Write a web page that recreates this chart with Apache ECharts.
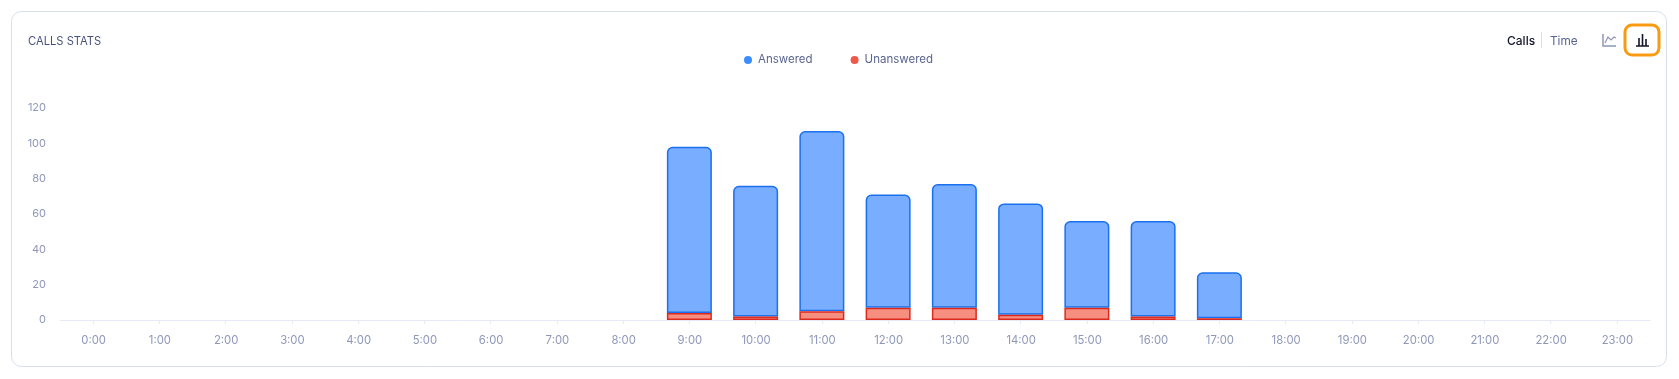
<!DOCTYPE html>
<html>
<head>
<meta charset="utf-8">
<style>html,body{margin:0;padding:0;background:#fff}#c{width:1679px;height:379px}</style>
<script src="https://cdn.jsdelivr.net/npm/echarts@6/dist/echarts.min.js"></script>
</head>
<body>
<div id="c"></div>
<script>
const hours = ['0:00','1:00','2:00','3:00','4:00','5:00','6:00','7:00','8:00','9:00','10:00','11:00','12:00','13:00','14:00','15:00','16:00','17:00','18:00','19:00','20:00','21:00','22:00','23:00'];
const unanswered = [null,null,null,null,null,null,null,null,null,4,2,5,7,7,3,7,2,1,null,null,null,null,null,null];
const answered   = [null,null,null,null,null,null,null,null,null,94,74,102,64,70,63,49,54,26,null,null,null,null,null,null];
const titleText = 'CALLS STATS';
const tabs = ['Calls','Time'];
const FONT = 'Inter, "Noto Sans", sans-serif';
const chart = echarts.init(document.getElementById('c'), null, {renderer:'canvas'});
chart.setOption({
  animation:false,
  backgroundColor:'#fff',
  title:{text:titleText,left:28,top:35,padding:0,textStyle:{fontFamily:FONT,fontSize:11.2,fontWeight:400,color:'#47527d',lineHeight:14}},
  legend:{
    top:54,left:744,padding:0,itemWidth:8,itemHeight:8,itemGap:38,icon:'circle',
    data:[{name:'Answered',itemStyle:{color:'#3a8dff',borderWidth:0}},{name:'Unanswered',itemStyle:{color:'#f0584a',borderWidth:0}}],
    textStyle:{fontFamily:FONT,fontSize:11.5,color:'#5a6490',padding:[0,0,0,1]}
  },
  grid:{left:60,right:29,top:108,bottom:59},
  xAxis:{
    type:'category',data:hours,
    axisLine:{lineStyle:{color:'#e6eaf6',width:1}},
    axisTick:{show:true,alignWithLabel:true,length:4,lineStyle:{color:'#e6eaf6'}},
    axisLabel:{interval:0,margin:15,padding:[0,0,0,1],fontFamily:FONT,fontSize:11.3,color:'#8f97b8'}
  },
  yAxis:{
    type:'value',min:0,max:120,interval:20,
    axisLine:{show:false},axisTick:{show:false},splitLine:{show:false},
    axisLabel:{margin:14,fontFamily:FONT,fontSize:11,color:'#8f97b8'}
  },
  series:[
    {name:'Unanswered',type:'bar',stack:'calls',data:unanswered,barWidth:45,z:3,
     itemStyle:{color:'#f78f81',borderColor:'#dc2a1e',borderWidth:1.5}},
    {name:'Answered',type:'bar',stack:'calls',data:answered,barWidth:45,z:2,
     itemStyle:{color:'#79adff',borderColor:'#1a70ee',borderWidth:1.5,borderRadius:[5,5,0,0]}}
  ],
  graphic:[
    {type:'rect',silent:true,z:-1,shape:{x:11.5,y:11.5,width:1655,height:355,r:10},style:{fill:'none',stroke:'#d6dfee',lineWidth:1}},
    {type:'text',silent:true,style:{x:1507,y:41,text:tabs[0],fontFamily:FONT,fontSize:12,fontWeight:500,fill:'#11142d',textAlign:'left',textVerticalAlign:'middle'}},
    {type:'line',silent:true,shape:{x1:1541.5,y1:32,x2:1541.5,y2:48},style:{stroke:'#d9deea',lineWidth:1}},
    {type:'text',silent:true,style:{x:1550,y:41,text:tabs[1],fontFamily:FONT,fontSize:11.8,fill:'#5a6490',textAlign:'left',textVerticalAlign:'middle'}},
    {type:'polyline',silent:true,shape:{points:[[1603,34],[1603,46],[1616,46]]},style:{fill:'none',stroke:'#8f97b8',lineWidth:1.5}},
    {type:'polyline',silent:true,shape:{points:[[1605,43],[1608,37],[1611,40],[1614,37],[1616,38]]},style:{fill:'none',stroke:'#8f97b8',lineWidth:1.2}},
    {type:'rect',silent:true,shape:{x:1625,y:25,width:34,height:30,r:7},style:{fill:'none',stroke:'#f89b12',lineWidth:3}},
    {type:'line',silent:true,shape:{x1:1636,y1:46,x2:1649,y2:46},style:{stroke:'#11142d',lineWidth:1.5}},
    {type:'line',silent:true,shape:{x1:1639,y1:38,x2:1639,y2:46},style:{stroke:'#11142d',lineWidth:1.6}},
    {type:'line',silent:true,shape:{x1:1642.5,y1:34,x2:1642.5,y2:46},style:{stroke:'#11142d',lineWidth:1.6}},
    {type:'line',silent:true,shape:{x1:1646,y1:39,x2:1646,y2:46},style:{stroke:'#11142d',lineWidth:1.6}}
  ]
});
</script>
</body>
</html>
